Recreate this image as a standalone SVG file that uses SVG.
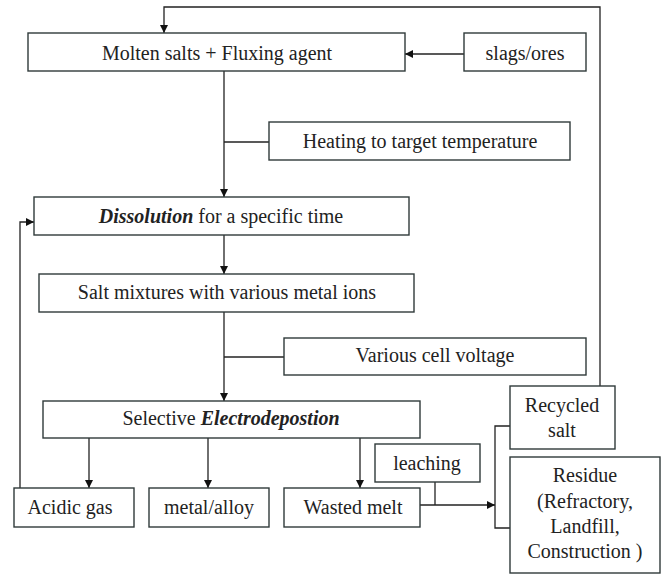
<svg xmlns="http://www.w3.org/2000/svg" width="663" height="574" viewBox="0 0 663 574">
<style>
.box{fill:#fff;stroke:#2f3a3a;stroke-width:1.4}
.t{font-family:'Liberation Serif','Times New Roman','DejaVu Serif',serif;font-size:20px;fill:#222;text-anchor:middle}
.bi{font-weight:bold;font-style:italic}
.ln{fill:none;stroke:#222;stroke-width:1.3}
</style>
<defs>
<marker id="ah" viewBox="0 0 10 10" refX="10" refY="5" markerWidth="8" markerHeight="8" markerUnits="userSpaceOnUse" orient="auto">
<path d="M0,0 L10,5 L0,10 z" fill="#111"/>
</marker>
</defs>
<rect width="663" height="574" fill="#fff"/>
<g id="connectors">
<path class="ln" d="M600,386 V7 H164 V33" marker-end="url(#ah)"/>
<path class="ln" d="M464,54 H405" marker-end="url(#ah)"/>
<path class="ln" d="M224,71 V197" marker-end="url(#ah)"/>
<path class="ln" d="M224,142 H269"/>
<path class="ln" d="M224,235 V274" marker-end="url(#ah)"/>
<path class="ln" d="M224,312 V401" marker-end="url(#ah)"/>
<path class="ln" d="M224,357 H284"/>
<path class="ln" d="M89,438 V488" marker-end="url(#ah)"/>
<path class="ln" d="M208,438 V488" marker-end="url(#ah)"/>
<path class="ln" d="M360,438 V488" marker-end="url(#ah)"/>
<path class="ln" d="M20,488 V222 H34" marker-end="url(#ah)"/>
<path class="ln" d="M435,482 V505"/>
<path class="ln" d="M420,505 H495" marker-end="url(#ah)"/>
<path class="ln" d="M510,426 H495 V528 H510"/>
</g>
<g id="molten">
<rect class="box" x="28" y="33" width="377" height="38"/>
<text class="t" x="217" y="60" font-family="Liberation Serif">Molten salts + Fluxing agent</text>
</g>
<g id="slags">
<rect class="box" x="464" y="33" width="122" height="38"/>
<text class="t" x="525" y="60">slags/ores</text>
</g>
<g id="heating">
<rect class="box" x="269" y="122" width="301" height="38"/>
<text class="t" x="420" y="148">Heating to target temperature</text>
</g>
<g id="dissolution">
<rect class="box" x="34" y="197" width="375" height="38"/>
<text class="t" x="221" y="223"><tspan class="bi">Dissolution</tspan> for a specific time</text>
</g>
<g id="saltmix">
<rect class="box" x="39" y="274" width="375" height="38"/>
<text class="t" x="227" y="299">Salt mixtures with various metal ions</text>
</g>
<g id="voltage">
<rect class="box" x="284" y="338" width="302" height="37"/>
<text class="t" x="435" y="362">Various cell voltage</text>
</g>
<g id="electro">
<rect class="box" x="43" y="401" width="377" height="37"/>
<text class="t" x="231" y="425">Selective <tspan class="bi">Electrodepostion</tspan></text>
</g>
<g id="acidic">
<rect class="box" x="14" y="488" width="120" height="39"/>
<text class="t" x="70" y="514">Acidic gas</text>
</g>
<g id="metal">
<rect class="box" x="149" y="488" width="120" height="39"/>
<text class="t" x="209" y="514">metal/alloy</text>
</g>
<g id="wasted">
<rect class="box" x="284" y="488" width="136" height="39"/>
<text class="t" x="353" y="514">Wasted melt</text>
</g>
<g id="leaching">
<rect class="box" x="375" y="444" width="105" height="38"/>
<text class="t" x="427" y="470">leaching</text>
</g>
<g id="recycled">
<rect class="box" x="510" y="386" width="105" height="63"/>
<text class="t" x="562" y="412">Recycled</text>
<text class="t" x="562" y="437">salt</text>
</g>
<g id="residue">
<rect class="box" x="510" y="457" width="150" height="116"/>
<text class="t" x="585" y="482">Residue</text>
<text class="t" x="585" y="508">(Refractory,</text>
<text class="t" x="585" y="533">Landfill,</text>
<text class="t" x="585" y="558">Construction )</text>
</g>
</svg>
